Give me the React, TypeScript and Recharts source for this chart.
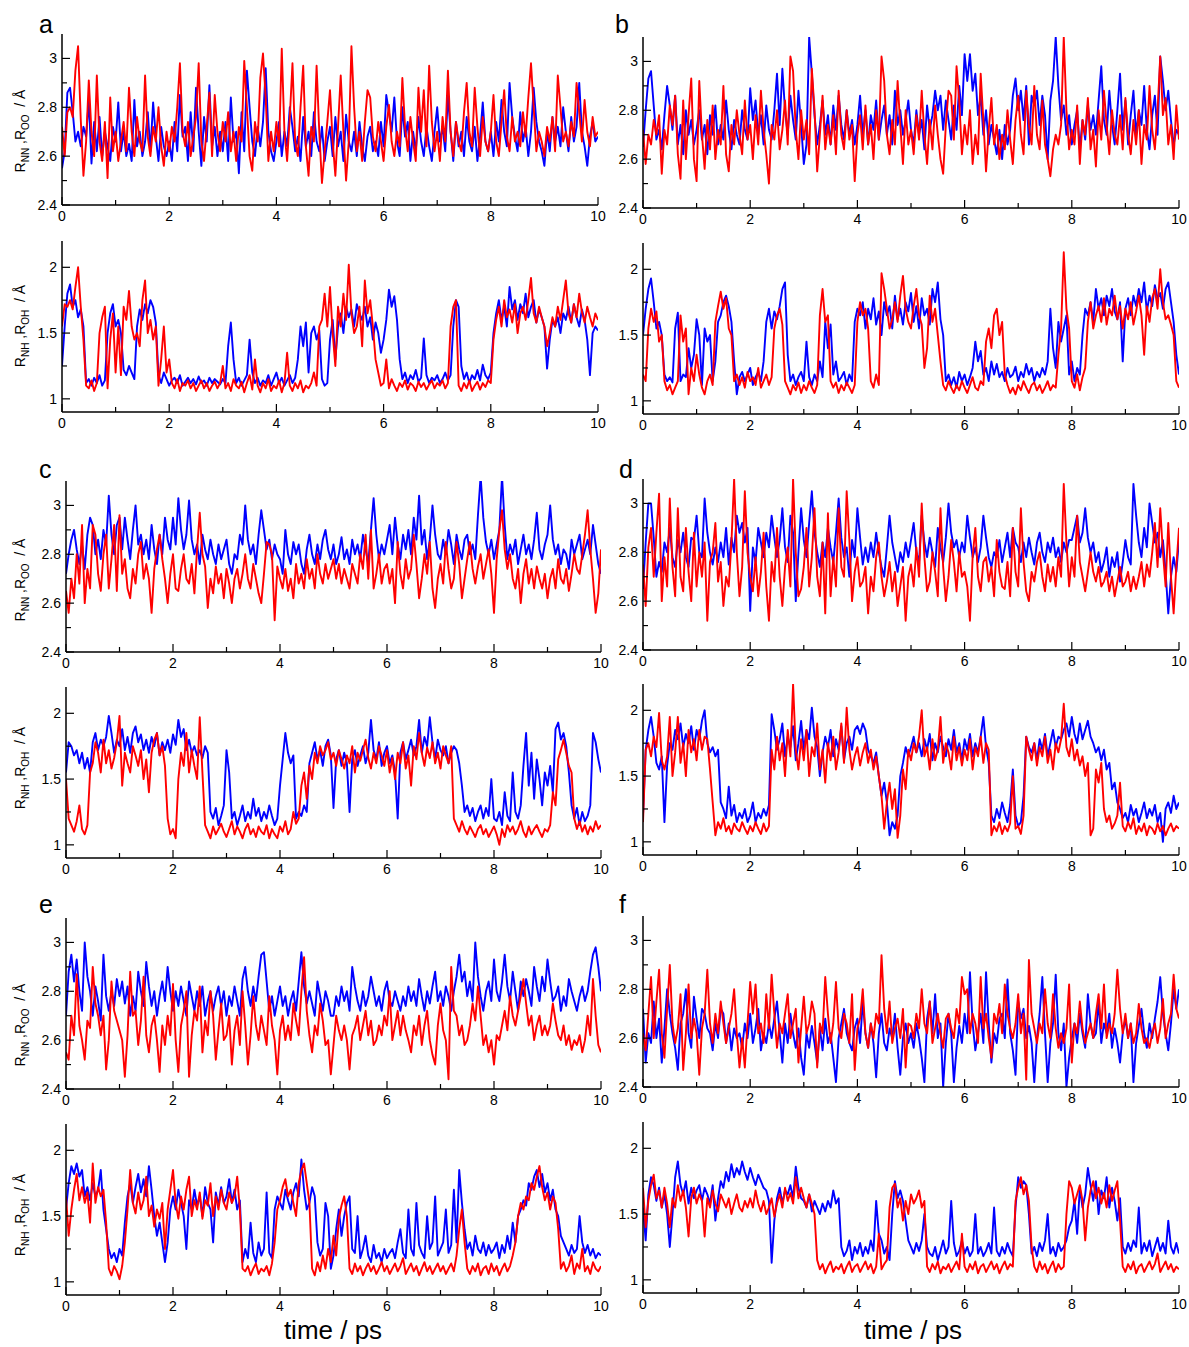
import React from 'react';
import { LineChart, Line, XAxis, YAxis } from 'recharts';

// sampling interval of every series (ps); 201 samples from 0 to 10 ps
const STEP = 0.05;

const X_TICKS = [0, 1, 2, 3, 4, 5, 6, 7, 8, 9, 10];
const X_MAJOR = [0, 2, 4, 6, 8, 10];
const RR_TICKS = [2.4, 2.5, 2.6, 2.7, 2.8, 2.9, 3];
const RR_MAJOR = [2.4, 2.6, 2.8, 3];
const RR_DOMAIN = [2.4, 3.1];
const RH_TICKS = [1, 1.25, 1.5, 1.75, 2];
const RH_MAJOR = [1, 1.5, 2];
const RH_DOMAIN = [0.9, 2.2];

// ---------- panel a ----------
const A_NN = [
  2.55, 2.62, 2.86, 2.88, 2.78, 2.66, 2.70, 2.64, 2.72, 2.68, 2.83, 2.57, 2.74, 2.62, 2.76, 2.60, 2.70, 2.64, 2.58, 2.72,
  2.66, 2.82, 2.62, 2.70, 2.60, 2.65, 2.58, 2.83, 2.64, 2.70, 2.60, 2.66, 2.78, 2.62, 2.82, 2.68, 2.58, 2.72, 2.64, 2.60,
  2.66, 2.58, 2.74, 2.62, 2.85, 2.68, 2.72, 2.58, 2.78, 2.62, 2.88, 2.70, 2.56, 2.76, 2.66, 2.89, 2.64, 2.72, 2.60, 2.70,
  2.62, 2.74, 2.58, 2.84, 2.66, 2.70, 2.53, 2.78, 2.62, 2.95, 2.80, 2.66, 2.60, 2.72, 2.64, 2.74, 2.96, 2.70, 2.62, 2.58,
  2.66, 2.74, 2.60, 2.70, 2.64, 2.80, 2.72, 2.62, 2.68, 2.58, 2.76, 2.64, 2.70, 2.60, 2.78, 2.66, 2.62, 2.72, 2.58, 2.66,
  2.72, 2.60, 2.76, 2.64, 2.70, 2.58, 2.77, 2.66, 2.62, 2.70, 2.60, 2.74, 2.64, 2.58, 2.68, 2.72, 2.62, 2.66, 2.60, 2.74,
  2.64, 2.85, 2.78, 2.70, 2.84, 2.66, 2.60, 2.80, 2.68, 2.74, 2.58, 2.70, 2.62, 2.76, 2.66, 2.60, 2.72, 2.64, 2.58, 2.70,
  2.80, 2.66, 2.72, 2.62, 2.85, 2.70, 2.58, 2.74, 2.64, 2.70, 2.60, 2.76, 2.66, 2.62, 2.72, 2.58, 2.68, 2.82, 2.66, 2.62,
  2.70, 2.60, 2.74, 2.66, 2.83, 2.70, 2.64, 2.90, 2.76, 2.68, 2.62, 2.78, 2.66, 2.72, 2.60, 2.70, 2.88, 2.74, 2.66, 2.62,
  2.56, 2.70, 2.62, 2.76, 2.66, 2.72, 2.64, 2.80, 2.70, 2.62, 2.76, 2.66, 2.72, 2.90, 2.70, 2.64, 2.56, 2.68, 2.74, 2.66,
  2.68,
];
const A_OO = [
  2.72, 2.60, 2.78, 2.80, 2.76, 2.95, 3.05, 2.75, 2.52, 2.66, 2.91, 2.70, 2.60, 2.93, 2.66, 2.58, 2.74, 2.51, 2.84, 2.62,
  2.70, 2.58, 2.66, 2.74, 2.62, 2.88, 2.70, 2.60, 2.76, 2.66, 2.62, 2.93, 2.68, 2.60, 2.72, 2.66, 2.80, 2.64, 2.56, 2.70,
  2.62, 2.72, 2.66, 2.80, 2.98, 2.70, 2.64, 2.74, 2.60, 2.68, 2.76, 2.98, 2.66, 2.58, 2.72, 2.86, 2.60, 2.85, 2.70, 2.62,
  2.74, 2.66, 2.78, 2.62, 2.70, 2.58, 2.72, 2.66, 2.99, 2.80, 2.60, 2.54, 2.74, 2.66, 2.92, 3.02, 2.84, 2.58, 2.70, 2.62,
  2.74, 2.64, 3.04, 2.70, 2.58, 2.76, 2.98, 2.66, 2.60, 2.80, 2.97, 2.64, 2.52, 2.72, 2.66, 2.97, 2.70, 2.49, 2.62, 2.74,
  2.87, 2.66, 2.52, 2.72, 2.93, 2.70, 2.50, 2.66, 3.05, 2.80, 2.62, 2.70, 2.58, 2.74, 2.87, 2.84, 2.68, 2.62, 2.74, 2.66,
  2.58, 2.72, 2.81, 2.66, 2.60, 2.70, 2.64, 2.92, 2.72, 2.62, 2.76, 2.66, 2.58, 2.88, 2.70, 2.87, 2.64, 2.97, 2.74, 2.62,
  2.70, 2.58, 2.76, 2.66, 2.95, 2.70, 2.60, 2.74, 2.66, 2.62, 2.78, 2.90, 2.70, 2.64, 2.88, 2.72, 2.60, 2.76, 2.66, 2.62,
  2.70, 2.85, 2.66, 2.60, 2.74, 2.87, 2.68, 2.62, 2.76, 2.66, 2.70, 2.64, 2.78, 2.68, 2.84, 2.98, 2.80, 2.62, 2.70, 2.66,
  2.60, 2.72, 2.66, 2.76, 2.62, 2.93, 2.80, 2.66, 2.70, 2.64, 2.74, 2.68, 2.90, 2.78, 2.66, 2.83, 2.70, 2.64, 2.76, 2.68,
  2.70,
];
const A_NH = [
  1.25, 1.55, 1.80, 1.87, 1.70, 1.75, 1.62, 1.68, 1.55, 1.12, 1.15, 1.10, 1.16, 1.12, 1.18, 1.10, 1.14, 1.50, 1.65, 1.72,
  1.55, 1.60, 1.50, 1.22, 1.18, 1.25, 1.20, 1.15, 1.55, 1.68, 1.60, 1.72, 1.65, 1.75, 1.70, 1.58, 1.18, 1.12, 1.20, 1.15,
  1.10, 1.14, 1.16, 1.12, 1.18, 1.10, 1.13, 1.16, 1.12, 1.15, 1.11, 1.17, 1.12, 1.14, 1.10, 1.16, 1.12, 1.15, 1.13, 1.11,
  1.15, 1.12, 1.40, 1.58, 1.30, 1.12, 1.16, 1.10, 1.14, 1.18, 1.45, 1.20, 1.12, 1.16, 1.10, 1.14, 1.12, 1.18, 1.10, 1.15,
  1.20, 1.12, 1.16, 1.10, 1.14, 1.18, 1.12, 1.16, 1.30, 1.55, 1.40, 1.58, 1.20, 1.50, 1.55, 1.45, 1.52, 1.15, 1.10, 1.12,
  1.45, 1.60, 1.30, 1.55, 1.65, 1.50, 1.70, 1.62, 1.68, 1.55, 1.72, 1.65, 1.60, 1.70, 1.55, 1.62, 1.45, 1.58, 1.50, 1.35,
  1.45, 1.60, 1.83, 1.70, 1.78, 1.60, 1.30, 1.15, 1.20, 1.12, 1.18, 1.15, 1.22, 1.13, 1.16, 1.46, 1.18, 1.12, 1.16, 1.14,
  1.18, 1.12, 1.15, 1.20, 1.14, 1.18, 1.55, 1.75, 1.70, 1.25, 1.15, 1.20, 1.12, 1.18, 1.15, 1.22, 1.14, 1.26, 1.18, 1.15,
  1.20, 1.50, 1.65, 1.75, 1.60, 1.70, 1.55, 1.85, 1.68, 1.75, 1.60, 1.72, 1.65, 1.80, 1.62, 1.70, 1.75, 1.58, 1.68, 1.62,
  1.55, 1.23, 1.45, 1.60, 1.55, 1.62, 1.50, 1.65, 1.60, 1.70, 1.58, 1.72, 1.62, 1.55, 1.68, 1.60, 1.45, 1.18, 1.50, 1.55,
  1.52,
];
const A_OH = [
  1.55, 1.72, 1.70, 1.75, 1.68, 1.85, 2.00, 1.70, 1.45, 1.10, 1.08, 1.14, 1.06, 1.12, 1.50, 1.62, 1.70, 1.08, 1.45, 1.65,
  1.20, 1.55, 1.18, 1.70, 1.60, 1.82, 1.55, 1.45, 1.50, 1.40, 1.75, 1.90, 1.50, 1.60, 1.45, 1.55, 1.10, 1.30, 1.55, 1.20,
  1.30, 1.12, 1.08, 1.15, 1.06, 1.12, 1.10, 1.14, 1.08, 1.12, 1.06, 1.10, 1.14, 1.08, 1.12, 1.06, 1.10, 1.13, 1.08, 1.12,
  1.25, 1.08, 1.12, 1.06, 1.15, 1.10, 1.08, 1.13, 1.05, 1.12, 1.18, 1.07, 1.30, 1.10, 1.05, 1.12, 1.08, 1.15, 1.06, 1.10,
  1.08, 1.14, 1.05, 1.12, 1.35, 1.10, 1.06, 1.12, 1.08, 1.14, 1.05, 1.10, 1.08, 1.12, 1.20, 1.10, 1.55, 1.60, 1.80, 1.55,
  1.85, 1.50, 1.25, 1.70, 1.55, 1.80, 1.60, 2.02, 1.65, 1.50, 1.55, 1.70, 1.40, 1.90, 1.65, 1.75, 1.55, 1.30, 1.20, 1.10,
  1.12, 1.30, 1.08, 1.15, 1.10, 1.06, 1.12, 1.09, 1.14, 1.07, 1.12, 1.10, 1.06, 1.13, 1.09, 1.12, 1.07, 1.11, 1.14, 1.08,
  1.12, 1.10, 1.14, 1.08, 1.12, 1.55, 1.70, 1.75, 1.10, 1.06, 1.12, 1.08, 1.14, 1.06, 1.10, 1.13, 1.07, 1.12, 1.09, 1.14,
  1.12, 1.45, 1.60, 1.70, 1.55, 1.75, 1.62, 1.68, 1.58, 1.72, 1.50, 1.65, 1.70, 1.60, 1.75, 1.92, 1.65, 1.58, 1.70, 1.62,
  1.55, 1.40, 1.50, 1.62, 1.55, 1.70, 1.60, 1.75, 1.90, 1.65, 1.58, 1.72, 1.62, 1.80, 1.66, 1.58, 1.70, 1.62, 1.55, 1.65,
  1.60,
];

// ---------- panel b ----------
const B_NN = [
  2.65, 2.80, 2.93, 2.96, 2.82, 2.68, 2.72, 2.64, 2.78, 2.90, 2.82, 2.72, 2.86, 2.66, 2.74, 2.62, 2.80, 2.70, 2.76, 2.66,
  2.72, 2.80, 2.68, 2.74, 2.62, 2.78, 2.70, 2.82, 2.66, 2.74, 2.68, 2.84, 2.72, 2.64, 2.76, 2.70, 2.66, 2.80, 2.72, 2.68,
  2.89, 2.76, 2.84, 2.70, 2.78, 2.66, 2.82, 2.72, 2.68, 2.80, 2.95, 2.74, 2.97, 2.80, 2.70, 2.86, 2.76, 2.68, 2.88, 2.74,
  2.58, 2.66, 3.10, 2.95, 2.78, 2.66, 2.74, 2.84, 2.70, 2.78, 2.66, 2.82, 2.72, 2.86, 2.74, 2.68, 2.80, 2.70, 2.76, 2.66,
  2.74, 2.86, 2.70, 2.80, 2.66, 2.78, 2.72, 2.84, 2.68, 2.76, 2.82, 2.70, 2.78, 2.66, 2.88, 2.74, 2.80, 2.70, 2.76, 2.84,
  2.72, 2.66, 2.80, 2.70, 2.76, 2.64, 2.82, 2.72, 2.78, 2.88, 2.80, 2.86, 2.72, 2.84, 2.76, 2.68, 2.82, 2.72, 2.90, 2.78,
  3.03, 2.92, 3.03, 2.88, 2.95, 2.78, 2.86, 2.70, 2.80, 2.66, 2.74, 2.68, 2.62, 2.72, 2.60, 2.74, 2.66, 2.72, 2.86, 2.93,
  2.80, 2.88, 2.76, 2.90, 2.66, 2.86, 2.82, 2.88, 2.74, 2.86, 2.78, 2.60, 2.84, 2.92, 3.10, 2.90, 2.76, 2.82, 2.70, 2.78,
  2.66, 2.74, 2.80, 2.64, 2.76, 2.68, 2.82, 2.72, 2.78, 2.70, 2.84, 2.98, 2.76, 2.70, 2.88, 2.74, 2.66, 2.80, 2.95, 2.72,
  2.84, 2.66, 2.78, 2.88, 2.70, 2.80, 2.74, 2.90, 2.72, 2.64, 2.78, 2.86, 2.70, 3.02, 2.92, 2.80, 2.88, 2.76, 2.66, 2.72,
  2.70,
];
const B_OO = [
  2.72, 2.58, 2.70, 2.66, 2.76, 2.70, 2.78, 2.54, 2.72, 2.66, 2.82, 2.74, 2.86, 2.62, 2.52, 2.84, 2.60, 2.78, 2.93, 2.60,
  2.51, 2.92, 2.70, 2.56, 2.76, 2.64, 2.82, 2.60, 2.72, 2.66, 2.90, 2.62, 2.55, 2.74, 2.66, 2.80, 2.70, 2.62, 2.84, 2.68,
  2.74, 2.60, 2.78, 2.66, 2.88, 2.72, 2.62, 2.50, 2.74, 2.68, 2.80, 2.64, 2.72, 2.84, 2.66, 3.02, 2.96, 2.72, 2.60, 2.80,
  2.68, 2.76, 2.62, 2.97, 2.80, 2.55, 2.70, 2.86, 2.64, 2.74, 2.66, 2.78, 2.62, 2.88, 2.70, 2.64, 2.80, 2.68, 2.74, 2.51,
  2.70, 2.78, 2.64, 2.82, 2.66, 2.74, 2.60, 2.80, 2.68, 3.02, 2.92, 2.70, 2.62, 2.76, 2.66, 2.92, 2.74, 2.58, 2.80, 2.66,
  2.72, 2.62, 2.78, 2.68, 2.88, 2.70, 2.58, 2.76, 2.64, 2.82, 2.70, 2.60, 2.54, 2.74, 2.88, 2.86, 2.68, 2.98, 2.84, 2.62,
  2.74, 2.66, 2.80, 2.58, 2.70, 2.62, 2.95, 2.76, 2.55, 2.72, 2.85, 2.66, 2.74, 2.60, 2.70, 2.64, 2.80, 2.68, 2.58, 2.76,
  2.86, 2.70, 2.62, 2.88, 2.74, 2.66, 2.90, 2.70, 2.64, 2.84, 2.66, 2.60, 2.53, 2.64, 2.70, 2.66, 2.74, 3.10, 2.80, 2.64,
  2.72, 2.66, 2.82, 2.58, 2.76, 2.70, 2.85, 2.64, 2.72, 2.57, 2.80, 2.68, 2.88, 2.74, 2.62, 2.80, 2.70, 2.66, 2.78, 2.64,
  2.85, 2.70, 2.62, 2.76, 2.66, 2.80, 2.58, 2.74, 2.68, 2.90, 2.72, 2.64, 2.80, 3.02, 2.78, 2.85, 2.66, 2.74, 2.60, 2.82,
  2.68,
];
const B_NH = [
  1.50, 1.70, 1.85, 1.93, 1.75, 1.55, 1.60, 1.50, 1.20, 1.15, 1.18, 1.14, 1.55, 1.67, 1.15, 1.20, 1.18, 1.40, 1.25, 1.35,
  1.62, 1.50, 1.12, 1.55, 1.45, 1.50, 1.15, 1.30, 1.60, 1.65, 1.75, 1.80, 1.72, 1.60, 1.30, 1.05, 1.18, 1.22, 1.15, 1.20,
  1.25, 1.12, 1.18, 1.22, 1.15, 1.30, 1.60, 1.70, 1.55, 1.68, 1.62, 1.72, 1.85, 1.90, 1.35, 1.15, 1.20, 1.12, 1.18, 1.22,
  1.15, 1.45, 1.18, 1.12, 1.20, 1.15, 1.30, 1.18, 1.60, 1.40, 1.58, 1.20, 1.30, 1.15, 1.18, 1.22, 1.12, 1.20, 1.15, 1.60,
  1.70, 1.65, 1.75, 1.55, 1.70, 1.62, 1.78, 1.58, 1.68, 1.50, 1.75, 1.65, 1.72, 1.55, 1.80, 1.62, 1.70, 1.58, 1.75, 1.68,
  1.82, 1.60, 1.72, 1.55, 1.78, 1.65, 1.70, 1.58, 1.85, 1.75, 1.90, 1.62, 1.50, 1.15, 1.20, 1.12, 1.18, 1.10, 1.22, 1.15,
  1.20, 1.12, 1.18, 1.25, 1.45, 1.30, 1.38, 1.20, 1.25, 1.15, 1.30, 1.20, 1.28, 1.18, 1.22, 1.15, 1.25, 1.18, 1.20, 1.26,
  1.15, 1.22, 1.18, 1.28, 1.20, 1.25, 1.15, 1.22, 1.18, 1.25, 1.20, 1.30, 1.70, 1.40, 1.25, 1.60, 1.45, 1.55, 1.65, 1.20,
  1.30, 1.15, 1.25, 1.20, 1.50, 1.70, 1.65, 1.75, 1.60, 1.85, 1.70, 1.78, 1.65, 1.80, 1.72, 1.85, 1.68, 1.62, 1.75, 1.30,
  1.70, 1.78, 1.65, 1.80, 1.72, 1.85, 1.75, 1.90, 1.68, 1.80, 1.72, 1.88, 1.78, 1.82, 1.70, 1.85, 1.90, 1.75, 1.60, 1.35,
  1.20,
];
const B_OH = [
  1.20, 1.15, 1.55, 1.70, 1.60, 1.68, 1.45, 1.50, 1.15, 1.08, 1.12, 1.05, 1.10, 1.15, 1.65, 1.45, 1.55, 1.05, 1.25, 1.15,
  1.35, 1.20, 1.10, 1.05, 1.15, 1.20, 1.12, 1.60, 1.72, 1.83, 1.70, 1.78, 1.55, 1.50, 1.15, 1.20, 1.12, 1.18, 1.10, 1.22,
  1.15, 1.18, 1.12, 1.25, 1.10, 1.15, 1.20, 1.12, 1.18, 1.55, 1.65, 1.70, 1.58, 1.15, 1.10, 1.05, 1.12, 1.08, 1.14, 1.06,
  1.12, 1.08, 1.15, 1.10, 1.06, 1.12, 1.65, 1.85, 1.60, 1.65, 1.15, 1.10, 1.14, 1.06, 1.12, 1.08, 1.14, 1.10, 1.06, 1.12,
  1.60, 1.75, 1.65, 1.70, 1.55, 1.15, 1.10, 1.20, 1.12, 1.97, 1.85, 1.70, 1.55, 1.62, 1.75, 1.60, 1.80, 1.95, 1.70, 1.60,
  1.55, 1.72, 1.85, 1.65, 1.58, 1.25, 1.40, 1.80, 1.60, 1.70, 1.50, 1.30, 1.12, 1.08, 1.15, 1.10, 1.06, 1.12, 1.08, 1.15,
  1.10, 1.06, 1.12, 1.18, 1.10, 1.08, 1.15, 1.12, 1.45, 1.55, 1.40, 1.65, 1.70, 1.50, 1.60, 1.20, 1.12, 1.06, 1.10, 1.05,
  1.12, 1.08, 1.15, 1.10, 1.06, 1.12, 1.14, 1.08, 1.12, 1.06, 1.10, 1.15, 1.08, 1.12, 1.10, 1.35, 1.55, 2.13, 1.70, 1.55,
  1.15, 1.10, 1.20, 1.08, 1.18, 1.25, 1.60, 1.75, 1.55, 1.65, 1.72, 1.60, 1.78, 1.58, 1.70, 1.65, 1.80, 1.62, 1.72, 1.55,
  1.70, 1.62, 1.75, 1.58, 1.68, 1.80, 1.65, 1.35, 1.72, 1.60, 1.78, 1.85, 1.70, 2.00, 1.75, 1.62, 1.65, 1.58, 1.50, 1.15,
  1.10,
];

// ---------- panel c ----------
const C_NN = [
  2.72, 2.80, 2.86, 2.90, 2.82, 2.76, 2.84, 2.74, 2.88, 2.95, 2.92, 2.80, 2.86, 2.78, 2.90, 2.84, 3.04, 2.88, 2.80, 2.92,
  2.95, 2.82, 2.95, 2.86, 2.78, 2.90, 3.00, 2.84, 2.88, 2.80, 2.86, 2.78, 2.92, 2.82, 2.76, 2.88, 2.80, 2.95, 2.86, 2.82,
  2.95, 2.84, 3.03, 2.90, 2.82, 2.88, 3.02, 2.86, 2.80, 2.84, 2.76, 2.88, 2.82, 2.78, 2.86, 2.80, 2.76, 2.84, 2.78, 2.82,
  2.86, 2.76, 2.72, 2.80, 2.78, 2.88, 2.84, 3.00, 2.86, 2.80, 2.84, 2.76, 2.88, 2.98, 2.90, 2.82, 2.86, 2.78, 2.84, 2.80,
  2.78, 2.72, 2.90, 2.80, 2.76, 2.85, 2.80, 2.84, 2.76, 2.72, 2.82, 2.88, 2.80, 2.76, 2.84, 2.78, 2.86, 2.90, 2.82, 2.78,
  2.84, 2.76, 2.80, 2.87, 2.78, 2.82, 2.76, 2.86, 2.80, 2.84, 2.78, 2.88, 2.82, 2.76, 2.90, 3.03, 2.88, 2.78, 2.84, 2.80,
  2.86, 2.92, 2.80, 2.95, 2.84, 2.78, 2.88, 2.82, 2.90, 2.80, 2.95, 2.86, 3.04, 2.84, 2.90, 2.78, 2.86, 3.00, 2.88, 2.80,
  2.78, 2.86, 2.80, 2.90, 2.84, 2.76, 2.88, 2.82, 2.78, 2.86, 2.88, 2.80, 2.84, 2.78, 2.96, 3.12, 2.95, 2.85, 2.80, 2.86,
  2.78, 2.84, 2.90, 3.12, 2.92, 2.78, 2.84, 2.80, 2.86, 2.76, 2.82, 2.88, 2.80, 2.84, 2.78, 2.86, 2.97, 2.82, 2.78, 2.84,
  2.88, 3.00, 2.86, 2.80, 2.84, 2.76, 2.82, 2.80, 2.74, 2.86, 2.80, 2.84, 2.88, 2.78, 2.82, 2.86, 2.80, 2.92, 2.84, 2.76,
  2.72,
];
const C_OO = [
  2.65, 2.56, 2.70, 2.62, 2.80, 2.68, 2.92, 2.60, 2.74, 2.66, 2.92, 2.88, 2.72, 2.65, 2.80, 2.88, 2.66, 2.78, 2.92, 2.65,
  2.96, 2.72, 2.78, 2.66, 2.62, 2.74, 2.68, 2.80, 2.85, 2.70, 2.76, 2.70, 2.56, 2.74, 2.82, 2.88, 2.78, 2.70, 2.60, 2.72,
  2.80, 2.66, 2.65, 2.74, 2.80, 2.70, 2.68, 2.76, 2.64, 2.82, 2.97, 2.80, 2.75, 2.58, 2.70, 2.64, 2.75, 2.68, 2.72, 2.62,
  2.74, 2.68, 2.60, 2.70, 2.74, 2.66, 2.72, 2.80, 2.70, 2.66, 2.76, 2.70, 2.64, 2.60, 2.72, 2.85, 2.84, 2.80, 2.53, 2.75,
  2.70, 2.66, 2.74, 2.65, 2.70, 2.62, 2.76, 2.68, 2.72, 2.66, 2.78, 2.70, 2.74, 2.66, 2.80, 2.72, 2.68, 2.76, 2.70, 2.74,
  2.78, 2.70, 2.76, 2.68, 2.74, 2.70, 2.66, 2.76, 2.72, 2.68, 2.80, 2.74, 2.88, 2.70, 2.90, 2.66, 2.72, 2.80, 2.68, 2.74,
  2.76, 2.68, 2.74, 2.60, 2.85, 2.72, 2.66, 2.78, 2.70, 2.74, 2.88, 2.76, 2.62, 2.70, 2.80, 2.72, 2.85, 2.66, 2.58, 2.70,
  2.76, 2.68, 2.85, 2.74, 2.66, 2.70, 2.85, 2.76, 2.62, 2.70, 2.78, 2.85, 2.74, 2.68, 2.75, 2.80, 2.70, 2.76, 2.82, 2.72,
  2.56, 2.78, 2.90, 2.98, 2.82, 2.74, 2.80, 2.70, 2.66, 2.74, 2.60, 2.72, 2.78, 2.68, 2.74, 2.66, 2.75, 2.70, 2.66, 2.72,
  2.62, 2.70, 2.74, 2.66, 2.78, 2.70, 2.68, 2.74, 2.65, 2.72, 2.80, 2.74, 2.72, 2.80, 2.88, 2.98, 2.82, 2.70, 2.56, 2.64,
  2.82,
];
const C_NH = [
  1.55, 1.78, 1.75, 1.68, 1.72, 1.62, 1.70, 1.58, 1.66, 1.55, 1.78, 1.85, 1.72, 1.80, 1.75, 1.82, 1.98, 1.85, 1.70, 1.80,
  1.75, 1.88, 1.72, 1.82, 1.70, 1.85, 1.90, 1.78, 1.84, 1.72, 1.80, 1.70, 1.82, 1.75, 1.85, 1.68, 1.78, 1.72, 1.80, 1.70,
  1.84, 1.76, 1.95, 1.82, 1.88, 1.72, 1.80, 1.70, 1.75, 1.68, 1.72, 1.66, 1.75, 1.70, 1.25, 1.20, 1.28, 1.15, 1.22, 1.30,
  1.72, 1.55, 1.20, 1.25, 1.15, 1.22, 1.30, 1.18, 1.25, 1.20, 1.35, 1.22, 1.28, 1.18, 1.25, 1.20, 1.30, 1.22, 1.15, 1.20,
  1.45, 1.65, 1.85, 1.70, 1.62, 1.68, 1.20, 1.25, 1.22, 1.30, 1.25, 1.62, 1.70, 1.78, 1.65, 1.72, 1.60, 1.75, 1.80, 1.68,
  1.28, 1.65, 1.72, 1.60, 1.70, 1.62, 1.25, 1.65, 1.72, 1.60, 1.68, 1.75, 1.62, 1.70, 1.95, 1.72, 1.65, 1.78, 1.60, 1.70,
  1.75, 1.62, 1.68, 1.55, 1.20, 1.70, 1.78, 1.65, 1.72, 1.80, 1.68, 1.75, 1.95, 1.70, 1.82, 1.75, 1.97, 1.78, 1.65, 1.80,
  1.72, 1.68, 1.75, 1.62, 1.70, 1.75, 1.72, 1.62, 1.45, 1.25, 1.30, 1.22, 1.28, 1.18, 1.25, 1.30, 1.20, 1.28, 1.22, 1.50,
  1.20, 1.18, 1.25, 1.15, 1.40, 1.22, 1.18, 1.55, 1.25, 1.20, 1.30, 1.60, 1.85, 1.45, 1.70, 1.35, 1.65, 1.50, 1.30, 1.55,
  1.45, 1.60, 1.40, 1.88, 1.93, 1.80, 1.85, 1.75, 1.55, 1.30, 1.20, 1.28, 1.15, 1.25, 1.18, 1.22, 1.30, 1.85, 1.78, 1.65,
  1.55,
];
const C_OH = [
  1.50, 1.20, 1.15, 1.10, 1.18, 1.30, 1.12, 1.08, 1.15, 1.55, 1.62, 1.78, 1.70, 1.55, 1.80, 1.62, 1.72, 1.58, 1.66, 1.78,
  1.98, 1.45, 1.70, 1.62, 1.55, 1.75, 1.68, 1.60, 1.72, 1.50, 1.65, 1.40, 1.70, 1.80, 1.85, 1.68, 1.75, 1.60, 1.20, 1.08,
  1.12, 1.05, 1.50, 1.70, 1.60, 1.85, 1.55, 1.72, 1.60, 1.50, 1.97, 1.55, 1.15, 1.10, 1.05, 1.14, 1.08, 1.12, 1.16, 1.10,
  1.06, 1.12, 1.18, 1.08, 1.14, 1.10, 1.05, 1.12, 1.16, 1.08, 1.12, 1.06, 1.14, 1.10, 1.08, 1.15, 1.05, 1.12, 1.08, 1.05,
  1.14, 1.10, 1.18, 1.08, 1.12, 1.25, 1.16, 1.20, 1.45, 1.55, 1.35, 1.60, 1.50, 1.70, 1.62, 1.75, 1.68, 1.72, 1.78, 1.65,
  1.70, 1.60, 1.72, 1.65, 1.58, 1.68, 1.62, 1.75, 1.55, 1.70, 1.64, 1.72, 1.80, 1.66, 1.58, 1.70, 1.62, 1.75, 1.68, 1.60,
  1.72, 1.55, 1.66, 1.50, 1.70, 1.62, 1.78, 1.58, 1.68, 1.45, 1.75, 1.65, 1.85, 1.70, 1.60, 1.74, 1.66, 1.78, 1.62, 1.70,
  1.58, 1.75, 1.68, 1.62, 1.75, 1.20, 1.15, 1.10, 1.18, 1.12, 1.08, 1.14, 1.10, 1.06, 1.12, 1.15, 1.08, 1.12, 1.06, 1.10,
  1.14, 1.08, 1.00, 1.12, 1.06, 1.15, 1.10, 1.14, 1.08, 1.12, 1.18, 1.10, 1.06, 1.14, 1.08, 1.12, 1.15, 1.10, 1.06, 1.12,
  1.10, 1.15, 1.40, 1.30, 1.65, 1.72, 1.80, 1.70, 1.60, 1.55, 1.20, 1.12, 1.18, 1.10, 1.15, 1.08, 1.14, 1.10, 1.18, 1.12,
  1.15,
];

// ---------- panel d ----------
const D_NN = [
  2.65, 2.84, 3.00, 3.00, 2.86, 2.70, 2.76, 2.72, 2.84, 2.80, 2.90, 2.78, 2.74, 2.85, 2.80, 2.88, 2.78, 2.74, 2.86, 2.85,
  2.95, 2.80, 2.78, 3.02, 2.88, 2.80, 2.75, 2.82, 2.76, 2.84, 2.78, 2.90, 2.75, 2.86, 2.80, 2.95, 2.88, 2.92, 2.84, 2.90,
  2.56, 2.82, 2.76, 2.90, 2.84, 2.78, 2.88, 2.82, 2.95, 2.86, 2.78, 2.85, 2.98, 2.82, 2.76, 2.95, 2.88, 2.60, 2.80, 2.98,
  2.85, 2.78, 2.92, 3.05, 2.88, 2.80, 2.74, 2.84, 2.78, 2.90, 2.82, 2.76, 2.88, 3.02, 2.86, 2.78, 2.82, 2.70, 2.85, 2.78,
  2.98, 2.86, 2.75, 2.82, 2.76, 2.84, 2.78, 2.88, 2.80, 2.74, 2.70, 2.82, 2.95, 2.84, 2.78, 2.72, 2.80, 2.76, 2.84, 2.78,
  2.85, 2.92, 2.80, 2.76, 2.95, 2.84, 2.78, 2.86, 2.80, 2.74, 2.90, 2.82, 2.76, 2.86, 3.00, 2.88, 2.82, 2.85, 2.78, 2.84,
  2.80, 2.95, 2.86, 2.78, 2.82, 2.76, 2.82, 2.95, 2.86, 2.78, 2.74, 2.80, 2.78, 2.85, 2.76, 2.82, 2.88, 2.78, 2.90, 2.84,
  2.82, 2.76, 2.84, 2.78, 2.86, 2.80, 2.75, 2.84, 2.88, 2.80, 2.76, 2.84, 2.80, 2.86, 2.78, 2.82, 2.76, 2.84, 2.80, 2.85,
  2.85, 2.90, 2.95, 2.84, 2.88, 2.98, 2.86, 2.80, 2.84, 2.76, 2.80, 2.72, 2.76, 2.82, 2.70, 2.78, 2.74, 2.80, 2.68, 2.76,
  2.85, 2.78, 2.75, 3.08, 2.95, 2.84, 2.78, 2.90, 2.82, 3.00, 2.92, 2.84, 2.88, 2.78, 2.85, 2.72, 2.55, 2.70, 2.78, 2.72,
  2.85,
];
const D_OO = [
  2.75, 2.58, 2.82, 2.90, 2.70, 2.88, 3.04, 2.60, 2.78, 2.66, 3.02, 2.74, 2.62, 2.98, 2.70, 2.64, 2.90, 2.72, 2.60, 2.88,
  2.66, 2.80, 2.70, 2.84, 2.52, 2.76, 2.80, 2.92, 2.68, 2.76, 2.58, 2.70, 2.66, 2.84, 3.10, 2.80, 2.62, 2.74, 3.05, 2.80,
  2.70, 2.64, 2.78, 2.62, 2.72, 2.88, 2.66, 2.52, 2.76, 2.68, 2.90, 2.70, 2.58, 2.74, 2.82, 2.66, 3.10, 2.80, 2.62, 2.65,
  2.74, 2.90, 2.66, 2.78, 2.98, 2.70, 2.62, 2.84, 2.55, 2.96, 2.62, 2.78, 2.66, 2.98, 2.74, 2.70, 3.05, 2.85, 2.60, 2.72,
  2.78, 2.66, 2.68, 2.74, 2.55, 2.70, 2.64, 2.78, 2.84, 2.70, 2.62, 2.68, 2.76, 2.64, 2.72, 2.58, 2.66, 2.74, 2.52, 2.70,
  2.75, 2.66, 2.82, 2.70, 3.00, 2.78, 2.64, 2.68, 2.80, 2.72, 2.62, 2.98, 2.74, 2.60, 2.70, 2.85, 2.76, 2.64, 2.80, 2.70,
  2.72, 2.66, 2.52, 2.78, 2.90, 2.70, 2.64, 2.76, 2.78, 2.68, 2.74, 2.62, 2.85, 2.72, 2.66, 2.65, 2.76, 2.62, 2.90, 2.72,
  2.66, 2.98, 2.76, 2.64, 2.60, 2.72, 2.68, 2.76, 2.80, 2.70, 2.64, 2.75, 2.68, 2.74, 2.66, 2.78, 2.70, 3.08, 2.84, 2.66,
  2.78, 2.70, 2.95, 2.76, 2.70, 2.64, 2.72, 2.80, 2.72, 2.68, 2.74, 2.66, 2.68, 2.72, 2.64, 2.70, 2.62, 2.68, 2.74, 2.66,
  2.68, 2.72, 2.64, 2.70, 2.65, 2.70, 2.76, 2.66, 2.75, 2.70, 2.80, 2.92, 2.74, 2.98, 2.80, 2.66, 2.92, 2.70, 2.55, 2.74,
  2.90,
];
const D_NH = [
  1.20, 1.70, 1.85, 1.95, 1.80, 1.60, 1.55, 1.65, 1.15, 1.58, 1.75, 1.70, 1.85, 1.78, 1.90, 1.72, 1.82, 1.75, 1.88, 1.70,
  1.85, 1.78, 1.92, 2.00, 1.75, 1.68, 1.72, 1.65, 1.70, 1.30, 1.25, 1.18, 1.42, 1.20, 1.28, 1.15, 1.22, 1.18, 1.25, 1.15,
  1.20, 1.30, 1.15, 1.22, 1.18, 1.25, 1.20, 1.28, 1.97, 1.85, 1.70, 1.78, 1.90, 1.65, 1.80, 1.72, 1.88, 1.62, 1.75, 1.92,
  1.70, 1.85, 1.78, 2.02, 1.80, 1.72, 1.50, 1.68, 1.80, 1.72, 1.85, 1.65, 1.78, 1.70, 1.88, 1.62, 1.75, 1.80, 1.70, 1.85,
  1.88, 1.82, 1.90, 1.85, 1.70, 1.65, 1.60, 1.68, 1.50, 1.35, 1.45, 1.30, 1.05, 1.15, 1.10, 1.20, 1.50, 1.60, 1.72, 1.65,
  1.72, 1.80, 1.68, 1.75, 1.65, 1.78, 1.70, 1.82, 1.62, 1.75, 1.68, 1.80, 1.72, 1.65, 1.78, 1.70, 1.85, 1.68, 1.75, 1.62,
  1.78, 1.70, 1.82, 1.65, 1.75, 1.68, 1.80, 1.95, 1.72, 1.60, 1.20, 1.15, 1.25, 1.18, 1.30, 1.22, 1.15, 1.28, 1.55, 1.20,
  1.12, 1.15, 1.35, 1.80, 1.72, 1.68, 1.75, 1.62, 1.78, 1.70, 1.82, 1.65, 1.75, 1.85, 1.72, 1.80, 1.78, 1.85, 1.90, 1.80,
  1.95, 1.82, 1.75, 1.90, 1.78, 1.85, 1.92, 1.80, 1.75, 1.68, 1.72, 1.62, 1.70, 1.55, 1.60, 1.40, 1.45, 1.30, 1.25, 1.18,
  1.22, 1.15, 1.28, 1.20, 1.25, 1.15, 1.22, 1.30, 1.18, 1.25, 1.20, 1.28, 1.15, 1.22, 1.00, 1.25, 1.30, 1.22, 1.35, 1.25,
  1.30,
];
const D_OH = [
  1.15, 1.70, 1.75, 1.65, 1.80, 1.72, 1.98, 1.62, 1.55, 1.65, 1.95, 1.50, 1.68, 1.95, 1.60, 1.75, 1.50, 1.85, 1.68, 1.78,
  1.62, 1.85, 1.70, 1.80, 1.78, 1.55, 1.30, 1.05, 1.15, 1.10, 1.18, 1.08, 1.12, 1.06, 1.14, 1.10, 1.08, 1.15, 1.10, 1.06,
  1.12, 1.08, 1.15, 1.10, 1.06, 1.14, 1.08, 1.12, 1.70, 1.55, 1.80, 1.62, 1.75, 1.50, 1.85, 1.65, 2.20, 1.70, 1.55, 1.78,
  1.62, 1.85, 1.50, 1.72, 1.65, 1.90, 1.55, 1.70, 1.45, 1.75, 1.62, 1.80, 1.55, 1.68, 1.90, 1.60, 2.02, 1.70, 1.55, 1.65,
  1.72, 1.58, 1.68, 1.75, 1.60, 1.70, 1.55, 1.65, 1.50, 1.35, 1.10, 1.30, 1.45, 1.25, 1.40, 1.03, 1.20, 1.55, 1.40, 1.70,
  1.62, 1.75, 1.68, 1.80, 2.00, 1.65, 1.72, 1.55, 1.78, 1.62, 1.70, 1.95, 1.60, 1.75, 1.68, 1.55, 1.80, 1.62, 1.72, 1.58,
  1.70, 1.62, 1.78, 1.55, 1.72, 1.65, 1.80, 1.60, 1.75, 1.70, 1.05, 1.12, 1.08, 1.15, 1.06, 1.12, 1.08, 1.14, 1.50, 1.10,
  1.12, 1.06, 1.20, 1.80, 1.70, 1.62, 1.75, 1.58, 1.72, 1.65, 1.80, 1.60, 1.70, 1.55, 1.75, 1.68, 1.78, 2.05, 1.72, 1.65,
  1.78, 1.62, 1.70, 1.58, 1.65, 1.50, 1.60, 1.05, 1.10, 1.55, 1.45, 1.60, 1.25, 1.15, 1.20, 1.10, 1.14, 1.20, 1.45, 1.12,
  1.08, 1.15, 1.10, 1.18, 1.06, 1.12, 1.08, 1.14, 1.05, 1.12, 1.10, 1.06, 1.14, 1.08, 1.12, 1.05, 1.10, 1.14, 1.08, 1.12,
  1.10,
];

// ---------- panel e ----------
const E_NN = [
  2.70, 2.88, 2.95, 2.84, 2.93, 2.80, 2.72, 3.00, 2.86, 2.80, 2.70, 2.82, 2.76, 2.68, 2.95, 2.78, 2.72, 2.80, 2.74, 2.85,
  2.78, 2.84, 2.75, 2.82, 2.70, 2.78, 2.72, 2.88, 2.80, 2.74, 2.92, 2.82, 2.74, 2.80, 2.70, 2.78, 2.84, 2.76, 2.90, 2.80,
  2.72, 2.80, 2.74, 2.82, 2.76, 2.70, 2.84, 2.78, 2.72, 2.80, 2.74, 2.82, 2.70, 2.76, 2.80, 2.72, 2.78, 2.82, 2.74, 2.80,
  2.70, 2.78, 2.74, 2.82, 2.76, 2.70, 2.85, 2.90, 2.80, 2.74, 2.82, 2.76, 2.86, 2.95, 2.96, 2.84, 2.72, 2.78, 2.70, 2.76,
  2.82, 2.74, 2.78, 2.70, 2.76, 2.80, 2.72, 2.84, 2.96, 2.82, 2.75, 2.80, 2.75, 2.70, 2.84, 2.78, 2.72, 2.80, 2.76, 2.70,
  2.70, 2.78, 2.74, 2.82, 2.76, 2.80, 2.72, 2.90, 2.82, 2.76, 2.72, 2.80, 2.74, 2.78, 2.86, 2.80, 2.74, 2.78, 2.72, 2.80,
  2.84, 2.76, 2.74, 2.80, 2.76, 2.72, 2.78, 2.74, 2.82, 2.76, 2.80, 2.74, 2.85, 2.78, 2.72, 2.80, 2.75, 2.82, 2.88, 2.76,
  2.80, 2.74, 2.82, 2.78, 2.72, 2.80, 2.86, 2.95, 2.84, 2.88, 2.78, 2.84, 2.76, 3.00, 2.86, 2.78, 2.72, 2.80, 2.84, 2.76,
  2.93, 2.80, 2.76, 2.84, 2.95, 2.82, 2.76, 2.88, 2.80, 2.72, 2.84, 2.78, 2.85, 2.80, 2.74, 2.90, 2.82, 2.76, 2.86, 2.80,
  2.93, 2.84, 2.76, 2.78, 2.82, 2.72, 2.78, 2.74, 2.85, 2.80, 2.76, 2.72, 2.78, 2.82, 2.76, 2.80, 2.88, 2.95, 2.98, 2.90,
  2.80,
];
const E_OO = [
  2.55, 2.52, 2.70, 2.62, 2.87, 2.66, 2.60, 2.52, 2.68, 2.65, 2.90, 2.75, 2.70, 2.62, 2.70, 2.48, 2.60, 2.84, 2.72, 2.68,
  2.64, 2.60, 2.45, 2.62, 2.88, 2.70, 2.72, 2.58, 2.68, 2.86, 2.62, 2.55, 2.66, 2.70, 2.60, 2.47, 2.66, 2.58, 2.70, 2.62,
  2.83, 2.60, 2.47, 2.66, 2.72, 2.80, 2.45, 2.62, 2.72, 2.68, 2.82, 2.55, 2.68, 2.62, 2.80, 2.70, 2.52, 2.64, 2.75, 2.60,
  2.62, 2.70, 2.50, 2.64, 2.70, 2.58, 2.80, 2.66, 2.50, 2.62, 2.78, 2.66, 2.60, 2.70, 2.64, 2.58, 2.78, 2.66, 2.60, 2.46,
  2.64, 2.70, 2.60, 2.66, 2.60, 2.75, 2.68, 2.62, 2.80, 2.94, 2.72, 2.62, 2.55, 2.66, 2.62, 2.75, 2.68, 2.58, 2.60, 2.46,
  2.58, 2.70, 2.64, 2.60, 2.66, 2.60, 2.48, 2.62, 2.65, 2.70, 2.60, 2.66, 2.72, 2.62, 2.68, 2.58, 2.60, 2.66, 2.62, 2.70,
  2.66, 2.80, 2.60, 2.66, 2.72, 2.62, 2.70, 2.64, 2.60, 2.55, 2.66, 2.62, 2.70, 2.58, 2.66, 2.72, 2.60, 2.54, 2.50, 2.66,
  2.75, 2.64, 2.60, 2.44, 2.90, 2.72, 2.70, 2.62, 2.66, 2.58, 2.60, 2.66, 2.75, 2.68, 2.82, 2.70, 2.58, 2.62, 2.55, 2.60,
  2.50, 2.62, 2.60, 2.66, 2.72, 2.64, 2.78, 2.70, 2.66, 2.72, 2.78, 2.85, 2.75, 2.66, 2.70, 2.60, 2.66, 2.70, 2.62, 2.66,
  2.62, 2.66, 2.75, 2.68, 2.62, 2.60, 2.66, 2.58, 2.62, 2.56, 2.60, 2.58, 2.62, 2.55, 2.60, 2.70, 2.62, 2.85, 2.70, 2.58,
  2.55,
];
const E_NH = [
  1.55, 1.75, 1.88, 1.82, 1.90, 1.80, 1.85, 1.65, 1.72, 1.62, 1.75, 1.65, 1.70, 1.85, 1.55, 1.40, 1.25, 1.18, 1.22, 1.15,
  1.25, 1.20, 1.45, 1.65, 1.75, 1.60, 1.72, 1.82, 1.68, 1.78, 1.65, 1.88, 1.70, 1.50, 1.35, 1.45, 1.30, 1.15, 1.30, 1.55,
  1.65, 1.55, 1.70, 1.60, 1.50, 1.25, 1.62, 1.55, 1.70, 1.58, 1.65, 1.50, 1.72, 1.60, 1.55, 1.30, 1.68, 1.58, 1.72, 1.60,
  1.65, 1.78, 1.60, 1.70, 1.55, 1.62, 1.15, 1.25, 1.18, 1.45, 1.22, 1.15, 1.30, 1.20, 1.25, 1.68, 1.22, 1.18, 1.55, 1.65,
  1.60, 1.55, 1.70, 1.62, 1.55, 1.68, 1.75, 1.65, 1.93, 1.70, 1.55, 1.60, 1.72, 1.65, 1.30, 1.20, 1.25, 1.60, 1.50, 1.10,
  1.20, 1.40, 1.55, 1.35, 1.50, 1.60, 1.65, 1.25, 1.22, 1.50, 1.18, 1.25, 1.35, 1.20, 1.15, 1.28, 1.18, 1.22, 1.15, 1.25,
  1.18, 1.22, 1.25, 1.18, 1.30, 1.40, 1.22, 1.18, 1.55, 1.25, 1.20, 1.60, 1.28, 1.22, 1.18, 1.50, 1.25, 1.30, 1.65, 1.20,
  1.25, 1.30, 1.55, 1.22, 1.28, 1.70, 1.30, 1.85, 1.60, 1.40, 1.25, 1.30, 1.20, 1.35, 1.25, 1.22, 1.30, 1.20, 1.28, 1.22,
  1.25, 1.30, 1.18, 1.28, 1.22, 1.35, 1.25, 1.45, 1.30, 1.50, 1.55, 1.62, 1.58, 1.75, 1.70, 1.80, 1.85, 1.72, 1.82, 1.68,
  1.75, 1.62, 1.70, 1.55, 1.50, 1.35, 1.30, 1.25, 1.20, 1.28, 1.22, 1.25, 1.50, 1.30, 1.22, 1.28, 1.20, 1.25, 1.18, 1.22,
  1.20,
];
const E_OH = [
  1.65, 1.35, 1.55, 1.70, 1.82, 1.62, 1.72, 1.60, 1.68, 1.45, 1.90, 1.60, 1.72, 1.65, 1.70, 1.45, 1.10, 1.05, 1.12, 1.08,
  1.02, 1.12, 1.30, 1.55, 1.85, 1.60, 1.52, 1.68, 1.55, 1.62, 1.80, 1.50, 1.58, 1.42, 1.55, 1.48, 1.60, 1.25, 1.55, 1.70,
  1.85, 1.60, 1.48, 1.65, 1.55, 1.70, 1.80, 1.50, 1.62, 1.55, 1.68, 1.48, 1.62, 1.58, 1.75, 1.50, 1.65, 1.55, 1.70, 1.60,
  1.55, 1.68, 1.60, 1.65, 1.80, 1.55, 1.10, 1.08, 1.12, 1.05, 1.10, 1.14, 1.06, 1.10, 1.08, 1.12, 1.05, 1.14, 1.30, 1.55,
  1.62, 1.72, 1.78, 1.65, 1.70, 1.60, 1.50, 1.75, 1.85, 1.90, 1.75, 1.60, 1.10, 1.05, 1.15, 1.08, 1.20, 1.10, 1.25, 1.15,
  1.35, 1.20, 1.48, 1.58, 1.65, 1.50, 1.10, 1.06, 1.14, 1.08, 1.12, 1.05, 1.10, 1.14, 1.08, 1.12, 1.06, 1.10, 1.15, 1.08,
  1.12, 1.06, 1.10, 1.14, 1.08, 1.12, 1.18, 1.06, 1.10, 1.14, 1.08, 1.12, 1.05, 1.10, 1.15, 1.08, 1.12, 1.06, 1.10, 1.14,
  1.08, 1.12, 1.06, 1.10, 1.14, 1.08, 1.20, 1.40, 1.55, 1.30, 1.10, 1.06, 1.12, 1.08, 1.14, 1.05, 1.10, 1.12, 1.06, 1.14,
  1.08, 1.12, 1.05, 1.10, 1.14, 1.08, 1.12, 1.20, 1.30, 1.50, 1.60, 1.55, 1.65, 1.62, 1.75, 1.70, 1.80, 1.88, 1.72, 1.62,
  1.68, 1.55, 1.65, 1.60, 1.40, 1.10, 1.15, 1.08, 1.12, 1.20, 1.06, 1.14, 1.10, 1.25, 1.08, 1.12, 1.06, 1.15, 1.10, 1.08,
  1.12,
];

// ---------- panel f ----------
const F_NN = [
  2.72, 2.50, 2.62, 2.58, 2.75, 2.60, 2.68, 2.50, 2.64, 2.80, 2.70, 2.62, 2.56, 2.47, 2.66, 2.70, 2.80, 2.62, 2.56, 2.77,
  2.68, 2.60, 2.72, 2.70, 2.64, 2.62, 2.55, 2.66, 2.60, 2.72, 2.70, 2.58, 2.66, 2.55, 2.64, 2.60, 2.62, 2.56, 2.66, 2.60,
  2.70, 2.58, 2.64, 2.72, 2.55, 2.62, 2.58, 2.66, 2.60, 2.68, 2.75, 2.62, 2.50, 2.66, 2.58, 2.70, 2.62, 2.56, 2.64, 2.52,
  2.45, 2.62, 2.56, 2.65, 2.58, 2.50, 2.64, 2.55, 2.68, 2.58, 2.62, 2.52, 2.42, 2.60, 2.66, 2.72, 2.62, 2.58, 2.55, 2.64,
  2.68, 2.58, 2.75, 2.62, 2.56, 2.66, 2.58, 2.44, 2.62, 2.70, 2.58, 2.55, 2.64, 2.60, 2.70, 2.56, 2.45, 2.60, 2.66, 2.58,
  2.62, 2.56, 2.66, 2.60, 2.52, 2.42, 2.68, 2.75, 2.62, 2.78, 2.60, 2.66, 2.40, 2.58, 2.70, 2.62, 2.42, 2.56, 2.65, 2.58,
  2.70, 2.62, 2.87, 2.66, 2.55, 2.62, 2.70, 2.58, 2.87, 2.66, 2.50, 2.62, 2.58, 2.68, 2.70, 2.60, 2.84, 2.62, 2.55, 2.45,
  2.75, 2.68, 2.72, 2.60, 2.65, 2.58, 2.42, 2.60, 2.70, 2.85, 2.62, 2.42, 2.58, 2.66, 2.86, 2.62, 2.55, 2.66, 2.40, 2.52,
  2.60, 2.66, 2.58, 2.70, 2.62, 2.56, 2.78, 2.66, 2.60, 2.62, 2.75, 2.58, 2.66, 2.62, 2.70, 2.56, 2.64, 2.58, 2.50, 2.62,
  2.68, 2.60, 2.66, 2.42, 2.58, 2.65, 2.72, 2.62, 2.56, 2.66, 2.60, 2.68, 2.75, 2.85, 2.70, 2.62, 2.55, 2.66, 2.80, 2.72,
  2.80,
];
const F_OO = [
  2.62, 2.55, 2.70, 2.85, 2.60, 2.75, 2.88, 2.62, 2.52, 2.72, 2.90, 2.66, 2.58, 2.64, 2.78, 2.47, 2.62, 2.82, 2.60, 2.68,
  2.62, 2.45, 2.64, 2.70, 2.88, 2.66, 2.58, 2.70, 2.62, 2.75, 2.66, 2.58, 2.64, 2.70, 2.80, 2.62, 2.48, 2.60, 2.48, 2.66,
  2.83, 2.70, 2.82, 2.62, 2.66, 2.58, 2.78, 2.64, 2.86, 2.70, 2.56, 2.66, 2.62, 2.70, 2.78, 2.60, 2.66, 2.72, 2.50, 2.64,
  2.77, 2.62, 2.66, 2.75, 2.70, 2.48, 2.66, 2.62, 2.85, 2.70, 2.58, 2.66, 2.83, 2.64, 2.60, 2.70, 2.66, 2.58, 2.78, 2.47,
  2.64, 2.68, 2.80, 2.62, 2.56, 2.66, 2.60, 2.70, 2.66, 2.94, 2.72, 2.62, 2.75, 2.58, 2.64, 2.68, 2.60, 2.72, 2.48, 2.66,
  2.65, 2.60, 2.70, 2.64, 2.80, 2.66, 2.62, 2.75, 2.58, 2.64, 2.70, 2.62, 2.56, 2.68, 2.70, 2.64, 2.60, 2.72, 2.66, 2.85,
  2.78, 2.80, 2.62, 2.70, 2.66, 2.58, 2.85, 2.64, 2.70, 2.60, 2.52, 2.70, 2.66, 2.74, 2.62, 2.82, 2.70, 2.64, 2.60, 2.66,
  2.78, 2.62, 2.70, 2.43, 2.92, 2.70, 2.64, 2.58, 2.66, 2.62, 2.80, 2.66, 2.60, 2.78, 2.64, 2.56, 2.62, 2.58, 2.64, 2.82,
  2.50, 2.66, 2.62, 2.75, 2.64, 2.58, 2.62, 2.66, 2.60, 2.70, 2.78, 2.64, 2.82, 2.60, 2.66, 2.62, 2.70, 2.88, 2.72, 2.62,
  2.70, 2.60, 2.66, 2.58, 2.62, 2.74, 2.64, 2.58, 2.60, 2.56, 2.62, 2.66, 2.58, 2.64, 2.76, 2.60, 2.66, 2.70, 2.86, 2.72,
  2.68,
];
const F_NH = [
  1.55, 1.30, 1.65, 1.78, 1.72, 1.60, 1.70, 1.55, 1.65, 1.50, 1.25, 1.50, 1.78, 1.90, 1.72, 1.65, 1.75, 1.58, 1.70, 1.62,
  1.68, 1.72, 1.60, 1.70, 1.65, 1.58, 1.72, 1.45, 1.62, 1.75, 1.70, 1.82, 1.75, 1.88, 1.78, 1.85, 1.80, 1.90, 1.82, 1.76,
  1.85, 1.78, 1.72, 1.80, 1.75, 1.70, 1.68, 1.60, 1.13, 1.45, 1.62, 1.70, 1.58, 1.68, 1.65, 1.72, 1.62, 1.86, 1.70, 1.62,
  1.60, 1.55, 1.65, 1.52, 1.60, 1.55, 1.50, 1.58, 1.52, 1.60, 1.55, 1.68, 1.58, 1.62, 1.25, 1.18, 1.22, 1.30, 1.15, 1.25,
  1.20, 1.28, 1.18, 1.25, 1.20, 1.30, 1.22, 1.60, 1.35, 1.30, 1.20, 1.25, 1.15, 1.50, 1.75, 1.62, 1.68, 1.60, 1.45, 1.30,
  1.25, 1.20, 1.28, 1.22, 1.30, 1.50, 1.25, 1.20, 1.18, 1.25, 1.15, 1.22, 1.30, 1.20, 1.25, 1.60, 1.28, 1.18, 1.22, 1.30,
  1.20, 1.25, 1.18, 1.22, 1.50, 1.20, 1.25, 1.18, 1.22, 1.28, 1.20, 1.55, 1.22, 1.18, 1.25, 1.20, 1.28, 1.22, 1.18, 1.55,
  1.78, 1.70, 1.75, 1.72, 1.50, 1.20, 1.25, 1.18, 1.28, 1.22, 1.30, 1.50, 1.20, 1.25, 1.18, 1.28, 1.22, 1.25, 1.30, 1.40,
  1.45, 1.60, 1.35, 1.70, 1.55, 1.65, 1.85, 1.72, 1.60, 1.75, 1.50, 1.68, 1.62, 1.78, 1.55, 1.70, 1.60, 1.45, 1.62, 1.25,
  1.20, 1.28, 1.22, 1.30, 1.25, 1.55, 1.20, 1.28, 1.22, 1.30, 1.18, 1.25, 1.32, 1.22, 1.28, 1.20, 1.45, 1.25, 1.20, 1.28,
  1.20,
];
const F_OH = [
  1.70, 1.40, 1.60, 1.72, 1.80, 1.62, 1.68, 1.55, 1.70, 1.58, 1.40, 1.62, 1.55, 1.72, 1.60, 1.68, 1.55, 1.33, 1.62, 1.70,
  1.58, 1.65, 1.60, 1.33, 1.62, 1.55, 1.68, 1.58, 1.52, 1.65, 1.60, 1.55, 1.62, 1.50, 1.58, 1.65, 1.55, 1.52, 1.60, 1.55,
  1.62, 1.55, 1.68, 1.58, 1.52, 1.60, 1.50, 1.55, 1.62, 1.48, 1.58, 1.65, 1.55, 1.70, 1.60, 1.66, 1.58, 1.78, 1.62, 1.70,
  1.62, 1.55, 1.65, 1.58, 1.50, 1.15, 1.08, 1.12, 1.05, 1.10, 1.14, 1.06, 1.10, 1.08, 1.12, 1.05, 1.10, 1.14, 1.06, 1.10,
  1.12, 1.06, 1.10, 1.14, 1.08, 1.12, 1.05, 1.10, 1.35, 1.08, 1.12, 1.15, 1.55, 1.70, 1.73, 1.55, 1.62, 1.45, 1.60, 1.50,
  1.65, 1.58, 1.62, 1.68, 1.55, 1.60, 1.10, 1.06, 1.12, 1.08, 1.14, 1.05, 1.10, 1.08, 1.12, 1.06, 1.10, 1.14, 1.08, 1.35,
  1.10, 1.06, 1.12, 1.08, 1.14, 1.05, 1.10, 1.12, 1.06, 1.10, 1.14, 1.08, 1.12, 1.05, 1.10, 1.14, 1.08, 1.12, 1.10, 1.60,
  1.70, 1.78, 1.65, 1.72, 1.60, 1.25, 1.10, 1.06, 1.14, 1.08, 1.12, 1.05, 1.10, 1.14, 1.06, 1.12, 1.08, 1.10, 1.50, 1.75,
  1.70, 1.58, 1.65, 1.72, 1.60, 1.30, 1.55, 1.68, 1.75, 1.62, 1.70, 1.58, 1.66, 1.55, 1.72, 1.60, 1.68, 1.75, 1.45, 1.10,
  1.06, 1.12, 1.08, 1.14, 1.05, 1.10, 1.12, 1.06, 1.10, 1.14, 1.08, 1.12, 1.20, 1.06, 1.10, 1.14, 1.08, 1.12, 1.06, 1.10,
  1.08,
];

const FONT = '"Liberation Sans", Arial, Helvetica, sans-serif';
const BLUE = '#0000ff';
const RED = '#ff0000';
const AXIS = { stroke: '#000', strokeWidth: 1.5 };
const LINE_W = 1.9;

const isMajor = (list: number[], v: number) => list.some((m) => Math.abs(m - v) < 1e-9);

function BottomTick(props: any) {
  const { x, y, payload } = props;
  const major = isMajor(X_MAJOR, payload.value);
  return (
    <g>
      <line x1={x} y1={y} x2={x} y2={y - (major ? 8 : 5)} stroke="#000" strokeWidth={1.2} />
      {major && (
        <text x={x} y={y + 16} textAnchor="middle" fontSize={14} fontFamily={FONT} fill="#000">
          {String(payload.value)}
        </text>
      )}
    </g>
  );
}
function TopTick(props: any) {
  const { x, y, payload } = props;
  const major = isMajor(X_MAJOR, payload.value);
  return <line x1={x} y1={y} x2={x} y2={y + (major ? 8 : 5)} stroke="#000" strokeWidth={1.2} />;
}
function makeLeftTick(majors: number[]) {
  return (props: any) => {
    const { x, y, payload } = props;
    const major = isMajor(majors, payload.value);
    return (
      <g>
        <line x1={x} y1={y} x2={x + (major ? 8 : 5)} y2={y} stroke="#000" strokeWidth={1.2} />
        {major && (
          <text x={x - 5} y={y + 5} textAnchor="end" fontSize={14} fontFamily={FONT} fill="#000">
            {String(payload.value)}
          </text>
        )}
      </g>
    );
  };
}
function makeRightTick(majors: number[]) {
  return (props: any) => {
    const { x, y, payload } = props;
    const major = isMajor(majors, payload.value);
    return <line x1={x} y1={y} x2={x - (major ? 8 : 5)} y2={y} stroke="#000" strokeWidth={1.2} />;
  };
}

type PanelProps = {
  left: number;
  top: number;
  width: number;
  height: number;
  blue: number[];
  red: number[];
  ticks: number[];
  majors: number[];
  domain: number[];
};

function Panel({ left, top, width, height, blue, red, ticks, majors, domain }: PanelProps) {
  const ML = 50, MR = 12, MT = 10, MB = 26;
  const data = blue.map((b, i) => ({ t: Math.round(i * STEP * 1000) / 1000, blue: b, red: red[i] }));
  return (
    <div style={{ position: 'absolute', left: left - ML, top: top - MT }}>
      <LineChart
        width={ML + width + MR}
        height={MT + height + MB}
        data={data}
        margin={{ top: MT, right: MR, bottom: 0, left: 0 }}
      >
        <XAxis
          xAxisId="b"
          dataKey="t"
          type="number"
          domain={[0, 10]}
          ticks={X_TICKS}
          interval={0}
          height={MB}
          tickSize={0}
          tickMargin={0}
          tickLine={false}
          axisLine={AXIS}
          tick={(p: any) => <BottomTick {...p} />}
          allowDataOverflow
        />
        <XAxis
          xAxisId="t"
          orientation="top"
          dataKey="t"
          type="number"
          domain={[0, 10]}
          ticks={X_TICKS}
          interval={0}
          height={0}
          tickSize={0}
          tickMargin={0}
          tickLine={false}
          axisLine={AXIS}
          tick={(p: any) => <TopTick {...p} />}
          allowDataOverflow
        />
        <YAxis
          yAxisId="l"
          type="number"
          domain={domain}
          ticks={ticks}
          interval={0}
          width={ML}
          tickSize={0}
          tickMargin={0}
          tickLine={false}
          axisLine={AXIS}
          tick={makeLeftTick(majors)}
          allowDataOverflow
        />
        <YAxis
          yAxisId="r"
          orientation="right"
          type="number"
          domain={domain}
          ticks={ticks}
          interval={0}
          width={0}
          tickSize={0}
          tickMargin={0}
          tickLine={false}
          axisLine={AXIS}
          tick={makeRightTick(majors)}
          allowDataOverflow
        />
        <Line
          xAxisId="b"
          yAxisId="l"
          type="linear"
          dataKey="blue"
          stroke={BLUE}
          strokeWidth={LINE_W}
          strokeLinejoin="round"
          dot={false}
          activeDot={false}
          isAnimationActive={false}
        />
        <Line
          xAxisId="t"
          yAxisId="r"
          type="linear"
          dataKey="red"
          stroke={RED}
          strokeWidth={LINE_W}
          strokeLinejoin="round"
          dot={false}
          activeDot={false}
          isAnimationActive={false}
        />
      </LineChart>
    </div>
  );
}

const COLUMNS = [
  { letter: 'a', lx: 39, ly: 33, left: 62, width: 536, topA: 34, topB: 241, nn: A_NN, oo: A_OO, nh: A_NH, oh: A_OH, label: true, labA: 131, labB: 326 },
  { letter: 'b', lx: 615, ly: 33, left: 643, width: 536, topA: 37, topB: 243, nn: B_NN, oo: B_OO, nh: B_NH, oh: B_OH, label: false, labA: 0, labB: 0 },
  { letter: 'c', lx: 39, ly: 478, left: 66, width: 535, topA: 481, topB: 687, nn: C_NN, oo: C_OO, nh: C_NH, oh: C_OH, label: true, labA: 580, labB: 768 },
  { letter: 'd', lx: 619, ly: 478, left: 643, width: 536, topA: 479, topB: 684, nn: D_NN, oo: D_OO, nh: D_NH, oh: D_OH, label: false, labA: 0, labB: 0 },
  { letter: 'e', lx: 39, ly: 913, left: 66, width: 535, topA: 918, topB: 1124, nn: E_NN, oo: E_OO, nh: E_NH, oh: E_OH, label: true, labA: 1025, labB: 1215 },
  { letter: 'f', lx: 619, ly: 913, left: 643, width: 536, topA: 916, topB: 1122, nn: F_NN, oo: F_OO, nh: F_NH, oh: F_OH, label: false, labA: 0, labB: 0 },
];
const PANEL_H = 171;

function YTitle({ x, y, a, b }: { x: number; y: number; a: string; b: string }) {
  return (
    <text transform={`translate(${x},${y}) rotate(-90)`} textAnchor="middle" fontSize={14} fontFamily={FONT} fill="#000">
      R
      <tspan fontSize={10} dy={4}>{a}</tspan>
      <tspan dy={-4}>{'\u00a0,R'}</tspan>
      <tspan fontSize={10} dy={4}>{b}</tspan>
      <tspan dy={-4}>{'\u00a0\u00a0/ Å'}</tspan>
    </text>
  );
}

export default function App() {
  return (
    <div style={{ position: 'absolute', left: 0, top: 0, width: 1189, height: 1347, background: '#fff', overflow: 'hidden' }}>
      {COLUMNS.map((c) => (
        <React.Fragment key={c.letter}>
          <Panel left={c.left} top={c.topA} width={c.width} height={PANEL_H} blue={c.nn} red={c.oo} ticks={RR_TICKS} majors={RR_MAJOR} domain={RR_DOMAIN} />
          <Panel left={c.left} top={c.topB} width={c.width} height={PANEL_H} blue={c.nh} red={c.oh} ticks={RH_TICKS} majors={RH_MAJOR} domain={RH_DOMAIN} />
        </React.Fragment>
      ))}
      <svg width={1189} height={1347} style={{ position: 'absolute', left: 0, top: 0, pointerEvents: 'none' }}>
        {COLUMNS.map((c) => (
          <text key={'l' + c.letter} x={c.lx} y={c.ly} fontSize={25} fontFamily={FONT} fill="#000">
            {c.letter}
          </text>
        ))}
        {COLUMNS.filter((c) => c.label).map((c) => (
          <React.Fragment key={'y' + c.letter}>
            <YTitle x={25} y={c.labA} a="NN" b="OO" />
            <YTitle x={25} y={c.labB} a="NH" b="OH" />
          </React.Fragment>
        ))}
        <text x={333} y={1339} textAnchor="middle" fontSize={26} fontFamily={FONT} fill="#000">time / ps</text>
        <text x={913} y={1339} textAnchor="middle" fontSize={26} fontFamily={FONT} fill="#000">time / ps</text>
      </svg>
    </div>
  );
}
